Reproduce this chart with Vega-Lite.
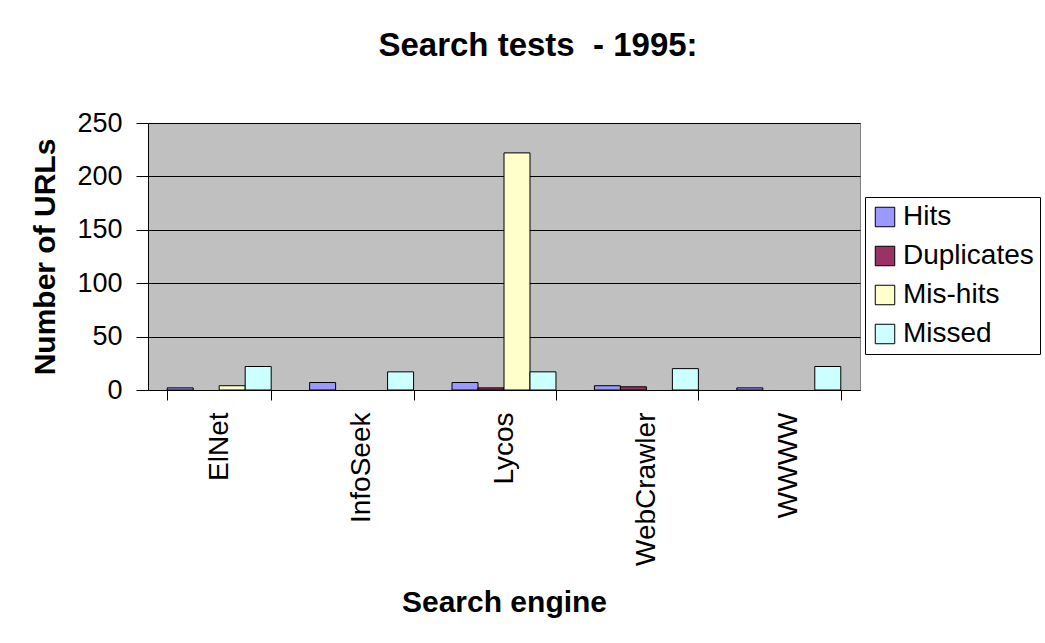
{
  "$schema": "https://vega.github.io/schema/vega-lite/v6.json",
  "width": 712,
  "height": 267,
  "autosize": {"type": "none"},
  "padding": {"left": 148, "top": 123, "right": 185, "bottom": 253},
  "background": "white",
  "title": {
    "text": "Search tests\u00a0 - 1995:",
    "fontSize": 33,
    "font": "Liberation Sans",
    "fontWeight": "bold",
    "color": "black",
    "anchor": "middle",
    "dx": 34,
    "offset": 46
  },
  "data": {
    "values": [
      {"engine": "ElNet", "series": "Hits", "value": 2},
      {"engine": "ElNet", "series": "Duplicates", "value": 0},
      {"engine": "ElNet", "series": "Mis-hits", "value": 4},
      {"engine": "ElNet", "series": "Missed", "value": 22},
      {"engine": "InfoSeek", "series": "Hits", "value": 7},
      {"engine": "InfoSeek", "series": "Duplicates", "value": 0},
      {"engine": "InfoSeek", "series": "Mis-hits", "value": 0},
      {"engine": "InfoSeek", "series": "Missed", "value": 17},
      {"engine": "Lycos", "series": "Hits", "value": 7},
      {"engine": "Lycos", "series": "Duplicates", "value": 2},
      {"engine": "Lycos", "series": "Mis-hits", "value": 222},
      {"engine": "Lycos", "series": "Missed", "value": 17},
      {"engine": "WebCrawler", "series": "Hits", "value": 4},
      {"engine": "WebCrawler", "series": "Duplicates", "value": 3},
      {"engine": "WebCrawler", "series": "Mis-hits", "value": 0},
      {"engine": "WebCrawler", "series": "Missed", "value": 20},
      {"engine": "WWWW", "series": "Hits", "value": 2},
      {"engine": "WWWW", "series": "Duplicates", "value": 0},
      {"engine": "WWWW", "series": "Mis-hits", "value": 0},
      {"engine": "WWWW", "series": "Missed", "value": 22}
    ]
  },
  "transform": [{"filter": "datum.value > 0"}],
  "mark": {"type": "bar", "stroke": "black", "strokeWidth": 1},
  "encoding": {
    "x": {
      "field": "engine",
      "type": "nominal",
      "sort": ["ElNet", "InfoSeek", "Lycos", "WebCrawler", "WWWW"],
      "scale": {"paddingInner": 0.27, "paddingOuter": 0.135},
      "axis": {
        "title": "Search engine",
        "titleFontSize": 30,
        "titleFont": "Liberation Sans",
        "titleFontWeight": "bold",
        "titleColor": "black",
        "titlePadding": 22,
        "labelAngle": -90,
        "labelFontSize": 28,
        "labelFont": "Liberation Sans",
        "labelColor": "black",
        "labelPadding": 12,
        "tickBand": "extent",
        "tickSize": 10,
        "tickColor": "black",
        "domainColor": "black",
        "grid": false
      }
    },
    "xOffset": {
      "field": "series",
      "type": "nominal",
      "sort": ["Hits", "Duplicates", "Mis-hits", "Missed"],
      "scale": {"domain": ["Hits", "Duplicates", "Mis-hits", "Missed"], "paddingInner": 0, "paddingOuter": 0}
    },
    "y": {
      "field": "value",
      "type": "quantitative",
      "scale": {"domain": [0, 250]},
      "axis": {
        "title": "Number of URLs",
        "titleFontSize": 30,
        "titleFont": "Liberation Sans",
        "titleFontWeight": "bold",
        "titleColor": "black",
        "titlePadding": 16,
        "values": [0, 50, 100, 150, 200, 250],
        "labelFontSize": 27,
        "labelFont": "Liberation Sans",
        "labelColor": "black",
        "labelPadding": 14,
        "tickSize": 12,
        "tickColor": "black",
        "domainColor": "black",
        "grid": true,
        "gridColor": "black",
        "gridWidth": 1
      }
    },
    "color": {
      "field": "series",
      "type": "nominal",
      "sort": ["Hits", "Duplicates", "Mis-hits", "Missed"],
      "scale": {
        "domain": ["Hits", "Duplicates", "Mis-hits", "Missed"],
        "range": ["#9999FF", "#993366", "#FFFFCC", "#CCFFFF"]
      },
      "legend": {
        "title": null,
        "orient": "none",
        "legendX": 717,
        "legendY": 74,
        "symbolType": "square",
        "symbolSize": 380,
        "symbolStrokeColor": "black",
        "symbolStrokeWidth": 1,
        "symbolOpacity": 1,
        "labelFontSize": 28,
        "labelFont": "Liberation Sans",
        "labelColor": "black",
        "rowPadding": 11,
        "padding": 6,
        "fillColor": "white",
        "strokeColor": "black",
        "labelOffset": 4
      }
    }
  },
  "config": {
    "view": {"fill": "#C0C0C0", "stroke": "#808080"}
  }
}
